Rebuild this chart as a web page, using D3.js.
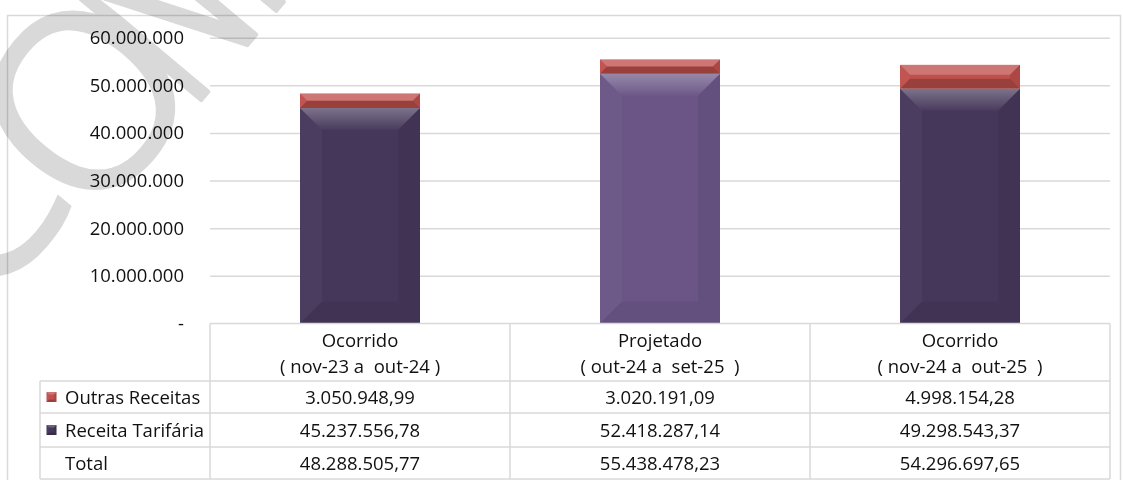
<!DOCTYPE html>
<html>
<head>
<meta charset="utf-8">
<script src="https://cdn.jsdelivr.net/npm/d3@7"></script>
<style>
  html, body { margin: 0; padding: 0; background: #fff; }
  svg { display: block; font-family: "Open Sans", "Liberation Sans", sans-serif; }
  text { white-space: pre; fill: #111; }
</style>
</head>
<body>
<svg id="chart" width="1123" height="480"></svg>
<script>
// Receitas por periodo (R$)
const periodos = ["Ocorrido", "Projetado", "Ocorrido"];
const intervalos = ["( nov-23 a  out-24 )", "( out-24 a  set-25  )", "( nov-24 a  out-25  )"];
const series = ["Outras Receitas", "Receita Tarifária"];
const outrasReceitas = [3050948.99, 3020191.09, 4998154.28];
const receitaTarifaria = [45237556.78, 52418287.14, 49298543.37];
const totais = [48288505.77, 55438478.23, 54296697.65];
const yTicks = [0, 10000000, 20000000, 30000000, 40000000, 50000000, 60000000];

const tarifColors = ["#45375a", "#6a5586", "#45375a"];
const outrasColor = "#c0504d";
const fontSize = 18.5;

const ptBR = d3.formatLocale({ decimal: ",", thousands: ".", grouping: [3], currency: ["R$", ""] });
const fmtTick = (v) => (v === 0 ? "-" : ptBR.format(",.0f")(v));
const fmtVal = ptBR.format(",.2f");

const svg = d3.select("#chart");

// Layout
const plotLeft = 210, plotRight = 1110;
const tableTop = 323.5, headerBottom = 381, rowBottoms = [413, 447, 479];
const labelLeft = 40;

const x = d3.scaleBand().domain(d3.range(periodos.length)).range([plotLeft, plotRight]).padding(0);
const y = d3.scaleLinear().domain([0, 60000000]).range([tableTop, 37.7]);
const barW = x.bandwidth() * 0.4;
const barX = (i) => x(i) + (x.bandwidth() - barW) / 2;

// Gradient for the top bevel
const defs = svg.append("defs");
const topGrad = defs.append("linearGradient").attr("id", "topGlow").attr("x1", 0).attr("y1", 0).attr("x2", 0).attr("y2", 1);
topGrad.append("stop").attr("offset", 0).attr("stop-color", "#fff").attr("stop-opacity", 0.3);
topGrad.append("stop").attr("offset", 1).attr("stop-color", "#fff").attr("stop-opacity", 0.02);

// Outer frame
svg.append("rect")
  .attr("x", 7.5).attr("y", 15.5).attr("width", 1113).attr("height", 480)
  .attr("fill", "none").attr("stroke", "#d9d9d9").attr("stroke-width", 1.5);

// Gridlines
svg.append("g")
  .attr("transform", `translate(${plotLeft},0)`)
  .call(d3.axisRight(y).tickValues(yTicks.filter((t) => t > 0)).tickSize(plotRight - plotLeft).tickFormat(""))
  .call((g) => g.select(".domain").remove())
  .call((g) => g.selectAll("line").attr("stroke", "#d9d9d9").attr("stroke-width", 1.5));

// Y labels
svg.append("g")
  .attr("transform", "translate(184,0)")
  .call(d3.axisLeft(y).tickValues(yTicks).tickSize(0).tickPadding(0).tickFormat(fmtTick))
  .attr("font-family", null).attr("font-size", null)
  .call((g) => g.select(".domain").remove())
  .call((g) => g.selectAll("text").attr("font-size", fontSize).attr("fill", "#111"));

// Bevelled rectangle
function bevelRect(g, x0, y0, w, h, color, maxB, strong) {
  const b = Math.min(maxB, h / 2, w / 2);
  g.append("rect").attr("x", x0).attr("y", y0).attr("width", w).attr("height", h).attr("fill", color);
  const faces = [
    { pts: [[x0, y0], [x0 + w, y0], [x0 + w - b, y0 + b], [x0 + b, y0 + b]], c: strong ? "#fff" : "url(#topGlow)", o: strong ? 0.22 : 1 },
    { pts: [[x0, y0], [x0 + b, y0 + b], [x0 + b, y0 + h - b], [x0, y0 + h]], c: "#fff", o: 0.03 },
    { pts: [[x0 + w, y0], [x0 + w - b, y0 + b], [x0 + w - b, y0 + h - b], [x0 + w, y0 + h]], c: "#000", o: strong ? 0.1 : 0.06 },
    { pts: [[x0, y0 + h], [x0 + w, y0 + h], [x0 + w - b, y0 + h - b], [x0 + b, y0 + h - b]], c: "#000", o: strong ? 0.2 : 0.06 }
  ];
  faces.forEach((f) => {
    g.append("polygon").attr("points", f.pts.map((p) => p.join(",")).join(" "))
      .attr("fill", f.c).attr("fill-opacity", f.o);
  });
}

// Bars
const bars = svg.append("g");
periodos.forEach((p, i) => {
  const y0 = y(receitaTarifaria[i]);
  bevelRect(bars, barX(i), y0, barW, y(0) - y0, tarifColors[i], 22, false);
  const y1 = y(receitaTarifaria[i] + outrasReceitas[i]);
  bevelRect(bars, barX(i), y1, barW, y0 - y1, outrasColor, 10, true);
});

// Data table
const table = svg.append("g");
const lineColor = "#d9d9d9";
const hLine = (x1, x2, yy) => table.append("line").attr("x1", x1).attr("x2", x2).attr("y1", yy).attr("y2", yy)
  .attr("stroke", lineColor).attr("stroke-width", 1.5);
const vLine = (xx, y1, y2) => table.append("line").attr("x1", xx).attr("x2", xx).attr("y1", y1).attr("y2", y2)
  .attr("stroke", lineColor).attr("stroke-width", 1.5);

hLine(plotLeft, plotRight, tableTop);
hLine(labelLeft, plotRight, headerBottom);
rowBottoms.forEach((yy) => hLine(labelLeft, plotRight, yy));
vLine(labelLeft, headerBottom, rowBottoms[2]);
d3.range(periodos.length + 1).forEach((i) => {
  const xx = i < periodos.length ? x(i) : plotRight;
  vLine(xx, tableTop, rowBottoms[2]);
});

periodos.forEach((p, i) => {
  const cx = x(i) + x.bandwidth() / 2;
  table.append("text").attr("x", cx).attr("y", 347).attr("text-anchor", "middle").attr("font-size", fontSize).text(p);
  table.append("text").attr("x", cx).attr("y", 373).attr("text-anchor", "middle").attr("font-size", fontSize).text(intervalos[i]);
});

const rows = [
  { label: series[0], values: outrasReceitas, swatch: outrasColor },
  { label: series[1], values: receitaTarifaria, swatch: tarifColors[0] },
  { label: "Total", values: totais, swatch: null }
];
const rowTops = [headerBottom, rowBottoms[0], rowBottoms[1]];
rows.forEach((r, ri) => {
  const cy = (rowTops[ri] + rowBottoms[ri]) / 2;
  if (r.swatch) bevelRect(table, 46.5, cy - 5, 10, 10, r.swatch, 2.5, true);
  table.append("text").attr("x", 65).attr("y", cy + 7).attr("font-size", fontSize).text(r.label);
  r.values.forEach((v, i) => {
    table.append("text").attr("x", x(i) + x.bandwidth() / 2).attr("y", cy + 7)
      .attr("text-anchor", "middle").attr("font-size", fontSize).text(fmtVal(v));
  });
});

// Watermark (multiply so dark text stays dark)
const wm = svg.append("g")
  .attr("transform", "translate(205,95) rotate(-50)")
  .style("mix-blend-mode", "multiply");
const wmText = (g, s) => g.append("text").attr("font-size", 250).style("fill", "#d9d9d9").text(s);
wmText(wm.append("g").attr("transform", "translate(-314,-26)"), "C");
wmText(wm.append("g").attr("transform", "translate(-179,0)"), "O");
wmText(wm.append("g").attr("transform", "translate(-22,0) scale(0.62,1)"), "NFIDENCIAL")
  .attr("stroke", "#d9d9d9").attr("stroke-width", 5).attr("stroke-linejoin", "round");
</script>
</body>
</html>
